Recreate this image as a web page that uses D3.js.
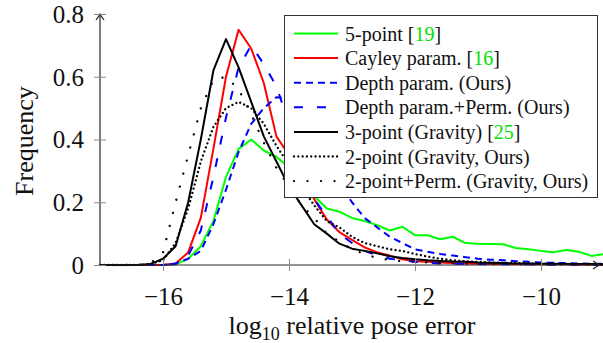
<!DOCTYPE html>
<html>
<head>
<meta charset="utf-8">
<script src="https://cdn.jsdelivr.net/npm/d3@7"></script>
<style>
  html, body { margin: 0; padding: 0; background: #fff; }
  svg { display: block; }
  svg text { font-family: "Liberation Serif", "Times New Roman", "DejaVu Serif", serif; }
</style>
</head>
<body>
<svg id="chart" width="603" height="343"></svg>
<script>
// ---- data (log10 relative pose error bins, step 0.2) ----
const bins = [-17.0,-16.8,-16.6,-16.4,-16.2,-16.0,-15.8,-15.6,-15.4,-15.2,
              -15.0,-14.8,-14.6,-14.4,-14.2,-14.0,-13.8,-13.6,-13.4,-13.2,
              -13.0,-12.8,-12.6,-12.4,-12.2,-12.0,-11.8,-11.6,-11.4,-11.2,
              -11.0,-10.8,-10.6,-10.4,-10.2,-10.0,-9.8,-9.6,-9.4,-9.2,-9.0];

const fivePoint = [0,0,0,0,0,0,0.002,0.02,0.06,0.14,
                   0.28,0.37,0.40,0.365,0.345,0.31,0.26,0.22,0.18,0.17,
                   0.15,0.14,0.127,0.11,0.122,0.095,0.095,0.082,0.09,0.07,
                   0.068,0.067,0.066,0.054,0.05,0.045,0.041,0.048,0.042,0.029,0.035];

const cayley = [0,0,0,0,0,0,0.005,0.04,0.15,0.37,
                0.60,0.75,0.69,0.58,0.41,0.35,0.28,0.21,0.145,0.105,
                0.08,0.056,0.04,0.03,0.018,0.012,0.01,0.008,0.006,0.005,
                0.004,0.003,0.003,0.003,0.002,0.002,0.002,0.002,0.001,0.001,0.001];

const depthParam = [0,0,0,0,0,0,0.005,0.02,0.045,0.13,
                    0.24,0.36,0.45,0.50,0.535,0.53,0.47,0.40,0.33,0.26,
                    0.20,0.15,0.12,0.09,0.07,0.05,0.042,0.035,0.03,0.025,
                    0.02,0.017,0.015,0.012,0.01,0.008,0.007,0.006,0.005,0.004,0.004];

const depthParamPerm = [0,0,0,0,0,0,0.003,0.03,0.11,0.28,
                        0.47,0.63,0.70,0.64,0.57,0.45,0.30,0.21,0.155,0.10,
                        0.07,0.045,0.03,0.02,0.015,0.01,0.007,0.005,0.004,0.003,
                        0.003,0.002,0.002,0.002,0.002,0.001,0.001,0.001,0.001,0.001,0.001];

const threePoint = [0,0,0,0,0.003,0.02,0.06,0.20,0.40,0.62,
                    0.72,0.63,0.52,0.41,0.33,0.25,0.19,0.13,0.10,0.068,
                    0.052,0.045,0.037,0.028,0.022,0.018,0.015,0.013,0.011,0.01,
                    0.008,0.007,0.006,0.005,0.005,0.004,0.004,0.003,0.003,0.003,0.002];

const twoPoint = [0,0,0,0,0.003,0.015,0.07,0.18,0.33,0.44,
                  0.50,0.52,0.50,0.45,0.38,0.32,0.25,0.19,0.14,0.12,
                  0.09,0.07,0.06,0.05,0.045,0.035,0.027,0.02,0.015,0.012,
                  0.01,0.008,0.007,0.006,0.005,0.004,0.004,0.003,0.003,0.003,0.002];

const twoPointPerm = [0,0,0,0,0.005,0.04,0.20,0.35,0.50,0.59,
                      0.60,0.56,0.48,0.39,0.31,0.25,0.19,0.15,0.10,0.075,
                      0.05,0.035,0.022,0.016,0.012,0.01,0.008,0.006,0.005,0.004,
                      0.003,0.003,0.003,0.002,0.002,0.002,0.002,0.001,0.001,0.001,0.001];

const seriesNames = ["5-point", "Cayley param.", "Depth param. (Ours)", "Depth param.+Perm. (Ours)",
                     "3-point (Gravity)", "2-point (Gravity, Ours)", "2-point+Perm. (Gravity, Ours)"];
const seriesCites = ["19", "16", null, null, "25", null, null];
const seriesValues = [fivePoint, cayley, depthParam, depthParamPerm, threePoint, twoPoint, twoPointPerm];

const xTicks = [-16, -14, -12, -10];
const yTicks = [0, 0.2, 0.4, 0.6, 0.8];

// ---- styles ----
const FONT = "'Liberation Serif', 'Times New Roman', 'DejaVu Serif', serif";
const styles = [
  { color: "#00ff00", dash: null, cap: "butt" },
  { color: "#ff0000", dash: null, cap: "butt" },
  { color: "#0000ff", dash: "7,5", cap: "butt" },
  { color: "#0000ff", dash: "9,14", cap: "butt" },
  { color: "#000000", dash: null, cap: "butt" },
  { color: "#000000", dash: "0.01,4.3", cap: "round" },
  { color: "#000000", dash: "0.01,13.5", cap: "round" }
];

const svg = d3.select("#chart");
const x = d3.scaleLinear().domain([-17, -9]).range([100, 604]);
const y = d3.scaleLinear().domain([0, 0.8]).range([265, 14]);

// curves
const line = d3.line().x((d, i) => x(bins[i])).y(d => y(d));
const plot = svg.append("g");
seriesValues.forEach((vals, k) => {
  plot.append("path")
    .datum(vals)
    .attr("d", line)
    .attr("fill", "none")
    .attr("stroke", styles[k].color)
    .attr("stroke-width", styles[k].cap === "round" ? 2.3 : 2)
    .attr("stroke-linejoin", "round")
    .attr("stroke-linecap", styles[k].cap)
    .attr("stroke-dasharray", styles[k].dash);
});

// axes (pgfplots-like, left/bottom with arrows)
const axisColor = "#262626";
svg.append("line").attr("x1", x(-17)).attr("x2", 599).attr("y1", y(0)).attr("y2", y(0))
  .attr("stroke", axisColor).attr("stroke-width", 1.2);
svg.append("line").attr("x1", x(-17)).attr("x2", x(-17)).attr("y1", y(0)).attr("y2", y(0.8) + 0.5)
  .attr("stroke", axisColor).attr("stroke-width", 1.2);
// arrowheads
svg.append("path")
  .attr("d", `M${599 - 6},${y(0) - 4} Q${599 - 2},${y(0) - 1} ${600},${y(0)} Q${599 - 2},${y(0) + 1} ${599 - 6},${y(0) + 4}`)
  .attr("fill", "none").attr("stroke", axisColor).attr("stroke-width", 1.2);
svg.append("path")
  .attr("d", `M${x(-17) - 4},${y(0.8) + 6} Q${x(-17) - 1},${y(0.8) + 2} ${x(-17)},${y(0.8)} Q${x(-17) + 1},${y(0.8) + 2} ${x(-17) + 4},${y(0.8) + 6}`)
  .attr("fill", "none").attr("stroke", axisColor).attr("stroke-width", 1.2);

// ticks
const tickColor = "#8a8a8a";
const xAxis = d3.axisBottom(x).tickValues(xTicks).tickSize(0).tickFormat(d => "\u2212" + Math.abs(d));
const gx = svg.append("g").attr("transform", `translate(0,${y(0)})`).call(xAxis)
  .attr("font-family", FONT).attr("font-size", 25);
gx.select(".domain").remove();
gx.selectAll(".tick line").remove();
gx.selectAll(".tick").append("line").attr("y1", -6).attr("y2", 6).attr("stroke", tickColor).attr("stroke-width", 1);
gx.selectAll(".tick text").attr("y", 40).attr("dy", null)
  .attr("font-size", 25).attr("font-family", FONT).attr("fill", "#111");

const yAxis = d3.axisLeft(y).tickValues(yTicks).tickSize(0).tickFormat(d => d === 0 ? "0" : d3.format(".1f")(d));
const gy = svg.append("g").attr("transform", `translate(${x(-17)},0)`).call(yAxis)
  .attr("font-family", FONT).attr("font-size", 25);
gy.select(".domain").remove();
gy.selectAll(".tick line").remove();
gy.selectAll(".tick").append("line").attr("x1", -6).attr("x2", 6).attr("stroke", tickColor).attr("stroke-width", 1);
gy.selectAll(".tick text").attr("x", -16).attr("dy", "0.33em")
  .attr("font-size", 25).attr("font-family", FONT).attr("fill", "#111");

// axis labels
const xl = svg.append("text").attr("x", 352).attr("y", 334).attr("text-anchor", "middle")
  .attr("font-family", FONT).attr("font-size", 26).attr("fill", "#111");
xl.append("tspan").text("log");
xl.append("tspan").attr("font-size", 18).attr("dy", 6).text("10");
xl.append("tspan").attr("dy", -6).text(" relative pose error");

svg.append("text").attr("transform", "translate(33,141) rotate(-90)").attr("text-anchor", "middle")
  .attr("font-family", FONT).attr("font-size", 26).attr("fill", "#111").text("Frequency");

// legend
const lg = svg.append("g");
lg.append("rect").attr("x", 284.5).attr("y", 15.5).attr("width", 313).attr("height", 182)
  .attr("fill", "#fff").attr("stroke", "#333").attr("stroke-width", 1);
seriesNames.forEach((name, k) => {
  const cy = 33.5 + k * 24.6;
  lg.append("line").attr("x1", 294).attr("x2", 338).attr("y1", cy).attr("y2", cy)
    .attr("stroke", styles[k].color)
    .attr("stroke-width", styles[k].cap === "round" ? 2.3 : 2)
    .attr("stroke-linecap", styles[k].cap)
    .attr("stroke-dasharray", styles[k].dash);
  const t = lg.append("text").attr("x", 345).attr("y", cy + 7)
    .attr("font-family", FONT).attr("font-size", 20).attr("fill", "#111");
  t.append("tspan").text(name + (seriesCites[k] ? " [" : ""));
  if (seriesCites[k]) {
    t.append("tspan").attr("fill", "#00e000").text(seriesCites[k]);
    t.append("tspan").text("]");
  }
});
</script>
</body>
</html>
